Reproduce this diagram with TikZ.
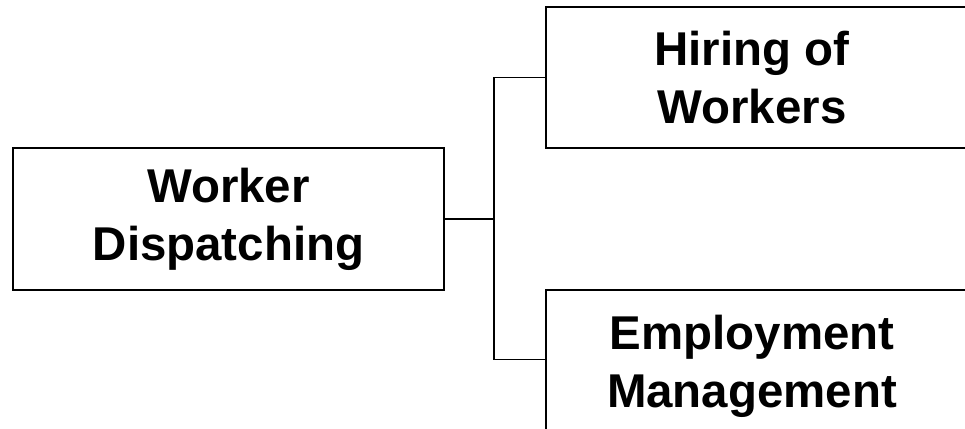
\documentclass[tikz,border=0pt]{standalone}
\usepackage{fontspec}
\setmainfont{Liberation Sans}
\usepackage{tikz}
\usetikzlibrary{calc}
\newcommand{\boxcolor}{black}
\newcommand{\boxthickness}{0.8pt}
\newcommand{\wirethickness}{0.6pt}
\newcommand{\pad}{\hspace*{0.24cm}}
\tikzset{box/.style={draw=\boxcolor, line width=\boxthickness, rectangle, align=center, inner sep=0pt,
  font=\fontsize{27}{33}\selectfont\bfseries}}

\begin{document}
\begin{tikzpicture}[x=0.02cm, y=-0.02cm]
\useasboundingbox (0,0) rectangle (965,429);
\clip (0,0) rectangle (965,429);
\node[box, minimum width=8.62cm, minimum height=2.84cm] (1) at (228.5, 219) {Worker\\Dispatching};
\node[box, minimum width=8.48cm, minimum height=2.82cm] (2) at (758, 77.5) {Hiring of\pad\\Workers\pad};
\node[box, minimum width=8.48cm, minimum height=3.04cm] (3) at (758, 366) {Employment\pad\\Management\pad};
\coordinate (4) at (494, 219);
%fork
\draw[line width=\wirethickness] (1.east) -- (4);
\draw[line width=\wirethickness] (2.west) -| (4) |- ($(3.north west)+(0,70)$);
\end{tikzpicture}
\end{document}
